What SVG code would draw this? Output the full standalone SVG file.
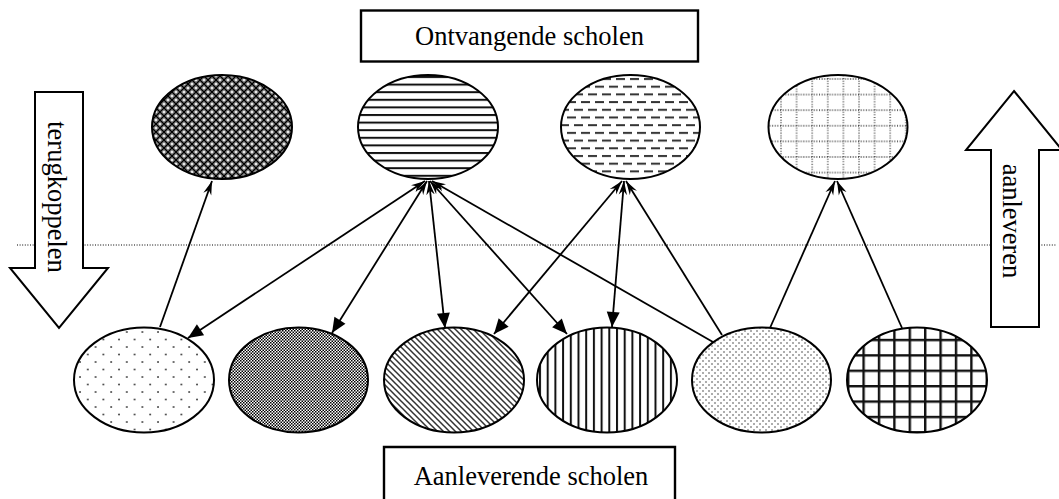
<svg xmlns="http://www.w3.org/2000/svg" width="1059" height="499" viewBox="0 0 1059 499">
<style>
  .lbl{font-family:"Liberation Serif","Times New Roman",serif;font-size:26.5px;fill:#000;}
  .box{fill:#fff;stroke:#000;stroke-width:2.4;}
  .ell{stroke:#000;stroke-width:2;}
  .big{fill:#fff;stroke:#000;stroke-width:2;stroke-linejoin:miter;}
  .con{fill:none;stroke:#000;stroke-width:1.8;}
  .dot{fill:none;stroke:#000;stroke-width:1;stroke-dasharray:1 1.6;}
</style>
<defs>
  <marker id="stealth" markerUnits="userSpaceOnUse" markerWidth="15" markerHeight="10" refX="14" refY="5" orient="auto">
    <path d="M14,5 L0,0.8 L4.5,5 L0,9.2 Z" fill="#000"/>
  </marker>
  <marker id="tri" markerUnits="userSpaceOnUse" markerWidth="16" markerHeight="14" refX="0" refY="7" orient="auto">
    <path d="M0,7 L15,0.5 L15,13.5 Z" fill="#000"/>
  </marker>
  <pattern id="p-cross" patternUnits="userSpaceOnUse" width="8" height="8">
    <rect width="8" height="8" fill="#8c8c8c"/>
    <path d="M0,0 L8,8 M8,0 L0,8" stroke="#000" stroke-width="1.3"/>
    <circle cx="4" cy="0" r="1.1" fill="#fff"/><circle cx="4" cy="8" r="1.1" fill="#fff"/>
    <circle cx="0" cy="4" r="1.1" fill="#fff"/><circle cx="8" cy="4" r="1.1" fill="#fff"/>
  </pattern>
  <pattern id="p-hlines" patternUnits="userSpaceOnUse" width="8" height="7.6">
    <rect width="8" height="7.6" fill="#fff"/>
    <rect x="0" y="0" width="8" height="2" fill="#111"/>
  </pattern>
  <pattern id="p-dash" patternUnits="userSpaceOnUse" width="14" height="15.4">
    <rect width="14" height="15.4" fill="#fff"/>
    <rect x="0" y="1" width="9" height="2" fill="#333"/>
    <rect x="7" y="8.7" width="9" height="2" fill="#333"/>
    <rect x="-7" y="8.7" width="9" height="2" fill="#333"/>
  </pattern>
  <pattern id="p-dotgrid" patternUnits="userSpaceOnUse" width="15.6" height="15.6">
    <rect width="15.6" height="15.6" fill="#fff"/>
    <path d="M0,1 H15.6 M1,0 V15.6" stroke="#333" stroke-width="1.3" stroke-dasharray="1 1.6"/>
  </pattern>
  <pattern id="p-sparse" patternUnits="userSpaceOnUse" width="15.6" height="15">
    <rect width="15.6" height="15" fill="#fff"/>
    <circle cx="2" cy="2" r="0.9" fill="#333"/>
    <circle cx="9.8" cy="9.5" r="0.9" fill="#333"/>
  </pattern>
  <pattern id="p-check" patternUnits="userSpaceOnUse" width="3" height="3">
    <rect width="3" height="3" fill="#fff"/>
    <rect x="0" y="0" width="1.5" height="1.5" fill="#000"/>
    <rect x="1.5" y="1.5" width="1.5" height="1.5" fill="#000"/>
  </pattern>
  <pattern id="p-diag" patternUnits="userSpaceOnUse" width="6" height="6">
    <rect width="6" height="6" fill="#fff"/>
    <path d="M-1,-1 L7,7 M-1,5 L1,7 M5,-1 L7,1" stroke="#333" stroke-width="1.5"/>
  </pattern>
  <pattern id="p-vlines" patternUnits="userSpaceOnUse" width="7.7" height="8">
    <rect width="7.7" height="8" fill="#fff"/>
    <rect x="0" y="0" width="2" height="8" fill="#111"/>
  </pattern>
  <pattern id="p-dense" patternUnits="userSpaceOnUse" width="6" height="6">
    <rect width="6" height="6" fill="#fff"/>
    <circle cx="1" cy="1" r="0.75" fill="#333"/>
    <circle cx="4" cy="4" r="0.75" fill="#333"/>
  </pattern>
  <pattern id="p-grid" patternUnits="userSpaceOnUse" width="15.4" height="15.4">
    <rect width="15.4" height="15.4" fill="#fff"/>
    <path d="M1.2,0 V15.4 M0,1.2 H15.4" stroke="#111" stroke-width="2.4"/>
  </pattern>
</defs>

<rect width="1059" height="499" fill="#fff"/>

<line id="divider" class="dot" x1="17" y1="245" x2="1057" y2="245"/>

<g id="box-ontvangende">
  <rect class="box" x="361" y="10.5" width="337" height="51"/>
  <text class="lbl" x="529.5" y="45" text-anchor="middle">Ontvangende scholen</text>
</g>
<g id="box-aanleverende">
  <path class="box" d="M384,505 V447 H675 V505"/>
  <text class="lbl" x="531" y="485" text-anchor="middle">Aanleverende scholen</text>
</g>

<g id="arrow-terugkoppelen">
  <polygon class="big" points="35,92 83,92 83,268 108,268 59,328 10,268 35,268"/>
  <text class="lbl" transform="translate(48,197) rotate(90)" text-anchor="middle">terugkoppelen</text>
</g>
<g id="arrow-aanleveren">
  <polygon class="big" points="1014,91 1062,150 1039,150 1039,327 991,327 991,150 966,150"/>
  <text class="lbl" transform="translate(1003,221) rotate(90)" text-anchor="middle">aanleveren</text>
</g>

<g id="top-1"><ellipse class="ell" cx="222" cy="127" rx="70" ry="52" fill="url(#p-cross)"/></g>
<g id="top-2"><ellipse class="ell" cx="428" cy="127" rx="70" ry="52" fill="url(#p-hlines)"/></g>
<g id="top-3"><ellipse class="ell" cx="630.5" cy="127" rx="69.5" ry="52" fill="url(#p-dash)"/></g>
<g id="top-4"><ellipse class="ell" cx="838" cy="127" rx="69.5" ry="52" fill="url(#p-dotgrid)"/></g>

<g id="bottom-1"><ellipse class="ell" cx="144" cy="380" rx="70" ry="52.5" fill="url(#p-sparse)"/></g>
<g id="bottom-2"><ellipse class="ell" cx="298.5" cy="380" rx="69.5" ry="52.5" fill="url(#p-check)"/></g>
<g id="bottom-3"><ellipse class="ell" cx="454" cy="380" rx="70" ry="52.5" fill="url(#p-diag)"/></g>
<g id="bottom-4"><ellipse class="ell" cx="607" cy="380" rx="70" ry="52.5" fill="url(#p-vlines)"/></g>
<g id="bottom-5"><ellipse class="ell" cx="761.5" cy="380" rx="69.5" ry="52.5" fill="url(#p-dense)"/></g>
<g id="bottom-6"><ellipse class="ell" cx="917" cy="380" rx="70" ry="52.5" fill="url(#p-grid)"/></g>

<g id="connectors">
  <line class="con" x1="160" y1="327" x2="212" y2="181" marker-end="url(#stealth)"/>
  <line class="con" x1="188" y1="338" x2="425" y2="181" marker-start="url(#tri)" marker-end="url(#stealth)"/>
  <line class="con" x1="332" y1="333" x2="427" y2="181" marker-start="url(#tri)" marker-end="url(#stealth)"/>
  <line class="con" x1="445" y1="328" x2="429" y2="181" marker-start="url(#tri)" marker-end="url(#stealth)"/>
  <line class="con" x1="567" y1="334" x2="430" y2="181" marker-start="url(#tri)" marker-end="url(#stealth)"/>
  <line class="con" x1="713" y1="342" x2="432" y2="181" marker-end="url(#stealth)"/>
  <line class="con" x1="494" y1="334" x2="622" y2="181" marker-start="url(#tri)" marker-end="url(#stealth)"/>
  <line class="con" x1="612" y1="327" x2="624" y2="181" marker-start="url(#tri)" marker-end="url(#stealth)"/>
  <line class="con" x1="722" y1="335" x2="626" y2="181" marker-end="url(#stealth)"/>
  <line class="con" x1="770" y1="328" x2="835" y2="181" marker-end="url(#stealth)"/>
  <line class="con" x1="902" y1="328" x2="837" y2="181" marker-end="url(#stealth)"/>
</g>
</svg>
